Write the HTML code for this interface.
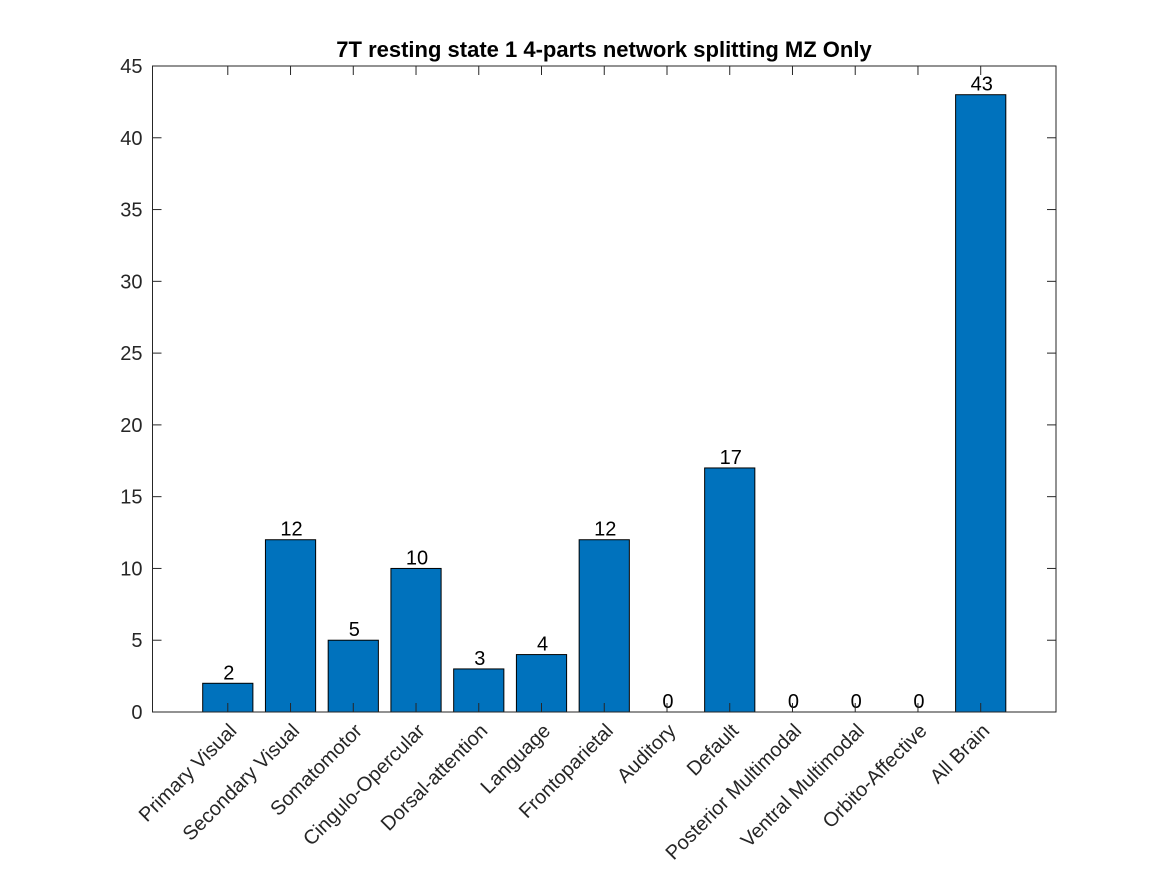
<!DOCTYPE html>
<html><head><meta charset="utf-8"><style>
html,body{margin:0;padding:0;background:#fff;}
svg{display:block;font-family:"Liberation Sans",Helvetica,Arial,sans-serif;}
</style></head><body>
<svg id="chart" width="1167" height="875" viewBox="0 0 1167 875" xmlns="http://www.w3.org/2000/svg">
<rect x="0" y="0" width="1167" height="875" fill="#fff"/>
<text x="604" y="57" text-anchor="middle" font-size="22" font-weight="bold" fill="#000">7T resting state 1 4-parts network splitting MZ Only</text>
<g id="bars"></g>
<g id="axes"></g>
</svg>
<script>
const categories = ["Primary Visual","Secondary Visual","Somatomotor","Cingulo-Opercular","Dorsal-attention","Language","Frontoparietal","Auditory","Default","Posterior Multimodal","Ventral Multimodal","Orbito-Affective","All Brain"];
const values = [2,12,5,10,3,4,12,0,17,0,0,0,43];
const yTicks = [0,5,10,15,20,25,30,35,40,45];

const NS="http://www.w3.org/2000/svg";
const L=152.5,R=1056,T=66,B=712;
const xMin=-0.2,xMax=14.2,yMin=0,yMax=45;
function xs(v){return L+(v-xMin)/(xMax-xMin)*(R-L);}
function ys(v){return B-(v-yMin)/(yMax-yMin)*(B-T);}
function mk(tag,attrs,parent){const e=document.createElementNS(NS,tag);for(const k in attrs)e.setAttribute(k,attrs[k]);parent.appendChild(e);return e;}
const bars=document.getElementById('bars'),axes=document.getElementById('axes');
const bw=0.8;
values.forEach((v,i)=>{
  const c=i+1;
  const x0=xs(c-bw/2),x1=xs(c+bw/2);
  if(v>0){
    const r=mk('rect',{x:x0,y:ys(v),width:x1-x0,height:ys(0)-ys(v),fill:'#0072bd',stroke:'#000','stroke-width':1},bars);
    
    
  }
  const t=mk('text',{x:xs(c)+1,y:ys(v)-4,'text-anchor':'middle','font-size':20,fill:'#000'},bars);
  t.textContent=v;
  
  
  const lb=mk('text',{x:0,y:0,'text-anchor':'end','font-size':20,fill:'#262626',transform:`translate(${xs(c)+10},${B+20}) rotate(-45)`},axes);
  lb.textContent=categories[i];
  
  
  mk('line',{x1:xs(c),x2:xs(c),y1:B,y2:B-9,stroke:'#262626','stroke-width':1},axes);
  mk('line',{x1:xs(c),x2:xs(c),y1:T,y2:T+9,stroke:'#262626','stroke-width':1},axes);
});
yTicks.forEach(v=>{
  mk('line',{x1:L,x2:L+9,y1:ys(v),y2:ys(v),stroke:'#262626','stroke-width':1},axes);
  mk('line',{x1:R,x2:R-9,y1:ys(v),y2:ys(v),stroke:'#262626','stroke-width':1},axes);
  const t=mk('text',{x:L-10,y:ys(v)+7,'text-anchor':'end','font-size':20,fill:'#262626'},axes);
  t.textContent=v;
  
  
});
const box=mk('rect',{x:L,y:T,width:R-L,height:B-T,fill:'none',stroke:'#262626','stroke-width':1},axes);


</script>
</body></html>
